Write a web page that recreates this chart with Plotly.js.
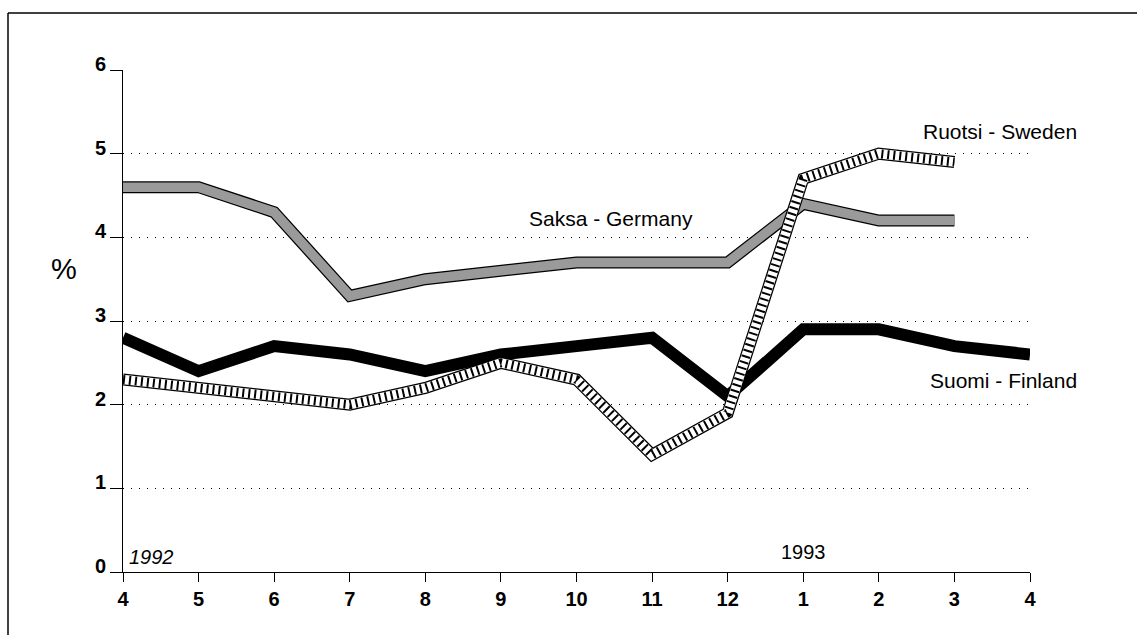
<!DOCTYPE html>
<html>
<head>
<meta charset="utf-8">
<script src="https://cdn.plot.ly/plotly-3.0.1.min.js"></script>
<style>html,body{margin:0;padding:0;background:#fff;}#chart{width:1137px;height:635px;}</style>
</head>
<body>
<div id="chart"></div>
<script>
// Months from April 1992 to April 1993
const monthLabels = ['4','5','6','7','8','9','10','11','12','1','2','3','4'];
const monthIndex = [0,1,2,3,4,5,6,7,8,9,10,11,12];
// Percent values
const finland = [2.8,2.4,2.7,2.6,2.4,2.6,2.7,2.8,2.1,2.9,2.9,2.7,2.6];
const germany = [4.6,4.6,4.3,3.3,3.5,3.6,3.7,3.7,3.7,4.4,4.2,4.2];
const sweden  = [2.3,2.2,2.1,2.0,2.2,2.5,2.3,1.4,1.9,4.7,5.0,4.9];
const yTicks = [0,1,2,3,4,5,6];

function xs(arr){ return monthIndex.slice(0, arr.length); }
function band(arr, color, width, dash){
  return {x: xs(arr), y: arr, type:'scatter', mode:'lines',
    line:{color: color, width: width, dash: dash || 'solid', shape:'linear'},
    hoverinfo:'skip', showlegend:false, cliponaxis:false};
}

const traces = [
  band(finland, '#000000', 12),
  band(germany, '#000000', 12),
  band(germany, '#9a9a9a', 9.5),
  band(sweden, '#000000', 12),
  band(sweden, '#ffffff', 9.5),
  band(sweden, '#000000', 9, '2px,4px')
];

// pixel helpers for paper coordinates (plot area 123..1030 x 70..572)
const L=123, R=1030, T=70, B=572;
const px = v => (v - L)/(R - L);
const py = v => (B - v)/(B - T);

const font = 'Liberation Sans, Arial, Helvetica, sans-serif';
const layout = {
  width:1137, height:635,
  margin:{l:L, r:1137-R, t:T, b:635-B, pad:0},
  paper_bgcolor:'#ffffff', plot_bgcolor:'#ffffff',
  font:{family:font, color:'#000', size:20},
  showlegend:false, hovermode:false,
  xaxis:{range:[0,12], tickmode:'array', tickvals:monthIndex, ticktext:monthLabels,
    showgrid:false, zeroline:false, showline:true, linecolor:'#000', linewidth:1,
    ticks:'outside', ticklen:9, tickcolor:'#000', tickwidth:1,
    tickfont:{size:20, family:font, color:'#000', weight:'bold'}, fixedrange:true},
  yaxis:{range:[0,6], tickmode:'array', tickvals:yTicks,
    showgrid:true, gridcolor:'#000', gridwidth:1, griddash:'1px,7px',
    zeroline:false, showline:true, linecolor:'#000', linewidth:1,
    ticks:'outside', ticklen:12, tickcolor:'#000', tickwidth:1, ticklabelshift:-6,
    tickfont:{size:20, family:font, color:'#000', weight:'bold'}, fixedrange:true},
  annotations:[
    {text:'%', xref:'paper', yref:'paper', x:px(64), y:py(269), showarrow:false,
     font:{size:29, family:font}, xanchor:'center', yanchor:'middle'},
    {text:'Saksa - Germany', xref:'x', yref:'y', x:6.46, y:4.22, showarrow:false,
     font:{size:21, family:font}, xanchor:'center', yanchor:'middle'},
    {text:'Ruotsi - Sweden', xref:'x', yref:'y', x:11.6, y:5.26, showarrow:false,
     font:{size:21, family:font}, xanchor:'center', yanchor:'middle'},
    {text:'Suomi - Finland', xref:'x', yref:'y', x:11.65, y:2.29, showarrow:false,
     font:{size:21, family:font}, xanchor:'center', yanchor:'middle'},
    {text:'<i>1992</i>', xref:'x', yref:'y', x:0.05, y:0.18, showarrow:false,
     font:{size:20, family:font}, xanchor:'left', yanchor:'middle'},
    {text:'1993', xref:'x', yref:'y', x:9.0, y:0.24, showarrow:false,
     font:{size:20, family:font}, xanchor:'center', yanchor:'middle'}
  ],
  shapes:[
    {type:'line', xref:'paper', yref:'paper', x0:px(8), x1:px(1137), y0:py(13), y1:py(13),
     line:{color:'#000', width:1.5}},
    {type:'line', xref:'paper', yref:'paper', x0:px(8), x1:px(8), y0:py(13), y1:py(635),
     line:{color:'#000', width:1.5}}
  ]
};

Plotly.newPlot('chart', traces, layout, {staticPlot:true, displayModeBar:false});
</script>
</body>
</html>
